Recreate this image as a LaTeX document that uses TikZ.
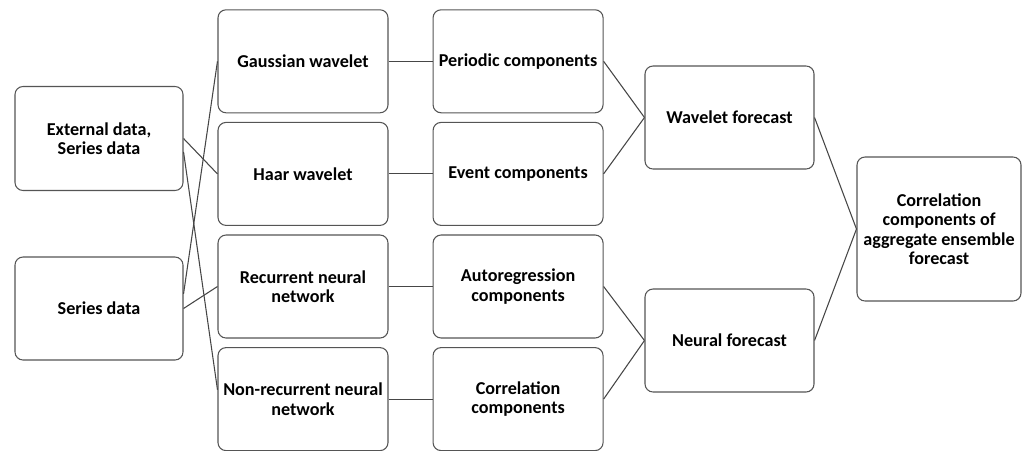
\documentclass[tikz,border=0pt]{standalone}
\usepackage{fontspec}
\setmainfont{Carlito}
\usepackage{xcolor}
\definecolor{boxline}{RGB}{85, 85, 85}
\definecolor{linkgray}{RGB}{70, 70, 70}
\usetikzlibrary{positioning}

\begin{document}
\begin{tikzpicture}[
  x=0.75pt, y=-0.75pt,
  node distance=6.4pt and 33pt,
  stage/.style={draw=boxline, fill=white, rounded corners=6pt, line width=0.8pt, font=\bfseries\fontsize{13.6}{14.6}\selectfont, align=center, inner sep=1pt, minimum width=127.5pt, minimum height=77.25pt},
  link/.style={line width=0.8pt, color=linkgray}
]
\useasboundingbox (0,0) rectangle (1030,450);

% inputs
\node[stage, minimum width=126pt, minimum height=78pt] (ext) at (99,138.5) {External data,\\Series data};
\node[stage, minimum width=126pt] (ser) at (99,308.5) {Series data};

% decomposition methods
\node[stage] (gauss) at (303,61.3) {Gaussian wavelet};
\node[stage, below=of gauss] (haar) {Haar wavelet};
\node[stage, below=of haar] (rnn) {Recurrent neural\\network};
\node[stage, below=of rnn] (nrnn) {Non-recurrent neural\\network};

% components
\node[stage, right=of gauss] (periodic) {Periodic components};
\node[stage, right=of haar] (event) {Event components};
\node[stage, right=of rnn] (autoreg) {Autoregression\\components};
\node[stage, right=of nrnn] (corr) {Correlation\\components};

% forecasts
\node[stage, minimum width=126.75pt] (wave) at (729.5,117.5) {Wavelet forecast};
\node[stage, minimum width=126.75pt] (neural) at (729.5,340.5) {Neural forecast};
\node[stage, minimum width=123pt, minimum height=108pt] (final) at (939,229) {Correlation\\components of\\aggregate ensemble\\forecast};

\draw[link] (ext.east) -- (haar.west);
\draw[link] ([yshift=-10pt]ext.east) -- ([yshift=7pt]nrnn.west);
\draw[link] ([yshift=11pt]ser.east) -- (gauss.west);
\draw[link] (ser.east) -- (rnn.west);

\draw[link] (gauss) -- (periodic);
\draw[link] (haar) -- (event);
\draw[link] (rnn) -- (autoreg);
\draw[link] (nrnn) -- (corr);

\draw[link] (periodic.east) -- (wave.west);
\draw[link] (event.east) -- (wave.west);
\draw[link] (autoreg.east) -- (neural.west);
\draw[link] (corr.east) -- (neural.west);

\draw[link] (wave.east) -- (final.west);
\draw[link] (neural.east) -- (final.west);
\end{tikzpicture}
\end{document}
